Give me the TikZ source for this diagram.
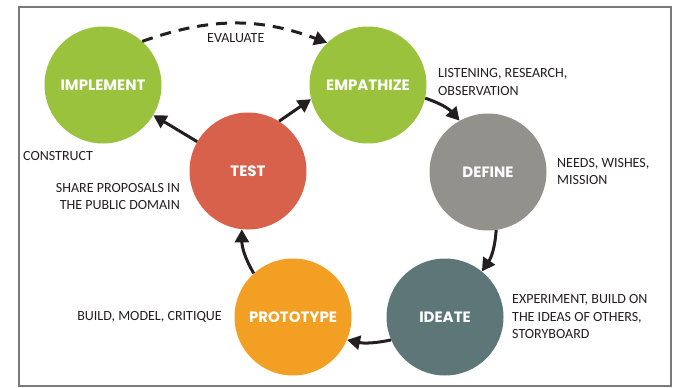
\documentclass[tikz,border=0pt]{standalone}
\usepackage{fontspec}
\setmainfont{Carlito}
\newfontfamily\stagefont{Poppins}
\usetikzlibrary{arrows.meta}
\definecolor{leafgreen}{HTML}{9AC23C}
\definecolor{brickred}{HTML}{D7614B}
\definecolor{stonegray}{HTML}{93918B}
\definecolor{slateteal}{HTML}{5D7779}
\definecolor{amber}{HTML}{F29F24}
\definecolor{inkgray}{HTML}{231F20}
\definecolor{framegray}{HTML}{7A7A7A}
\begin{document}
\begin{tikzpicture}[x=1pt,y=1pt,
	stage/.style={circle,minimum size=117pt,inner sep=0pt,text=white,
		font=\stagefont\bfseries\fontsize{15}{17}\selectfont},
	note/.style={inner sep=0pt,text=inkgray,font=\fontsize{14}{17.5}\selectfont},
	flow/.style={line width=3pt,draw=inkgray,-{Triangle[length=13pt,width=14pt]}}]
	\useasboundingbox (0,0) rectangle (675,-388);
	\draw[framegray,line width=2.5pt] (19,-7) rectangle (671,-386);

	\foreach \name/\x/\y/\col/\txt in {impl/103/85/leafgreen/IMPLEMENT,
		emp/368/85/leafgreen/EMPATHIZE, def/488/172/stonegray/DEFINE,
		ide/445/317/slateteal/IDEATE, proto/293/317/amber/PROTOTYPE,
		test/248/171/brickred/TEST}
	{
		\node[stage,fill=\col] (\name) at (\x,-\y) {\txt};
	}

	\node[note,anchor=west] (evalnote) at (207,-38) {EVALUATE};
	\node[note,anchor=west,align=left] (empnote) at (438,-82) {LISTENING, RESEARCH,\\OBSERVATION};
	\node[note,anchor=west,align=left] (defnote) at (557,-171.5) {NEEDS, WISHES,\\MISSION};
	\node[note,anchor=west,align=left] (idenote) at (512,-317) {EXPERIMENT, BUILD ON\\THE IDEAS OF OTHERS,\\STORYBOARD};
	\node[note,anchor=east] (protonote) at (222,-317) {BUILD, MODEL, CRITIQUE};
	\node[note,anchor=east,align=right] (testnote) at (180,-196.5) {SHARE PROPOSALS IN\\THE PUBLIC DOMAIN};
	\node[note,anchor=west] (implnote) at (23,-156) {CONSTRUCT};

	\draw[flow] (emp.-13) to[bend left=15] (def.119);
	\draw[flow] (def.-82) to[bend left=15] (ide.51);
	\draw[flow] (ide.203) to[bend left=12] (proto.-23);
	\draw[flow] (proto.132) to[bend left=15] (test.264);
	\draw[flow] (test.150) -- (impl.-31);
	\draw[flow] (test.58) -- (emp.194);
	\draw[flow,dash pattern=on 11pt off 8pt] (impl.48) to[bend left=20] (emp.134);
\end{tikzpicture}
\end{document}
